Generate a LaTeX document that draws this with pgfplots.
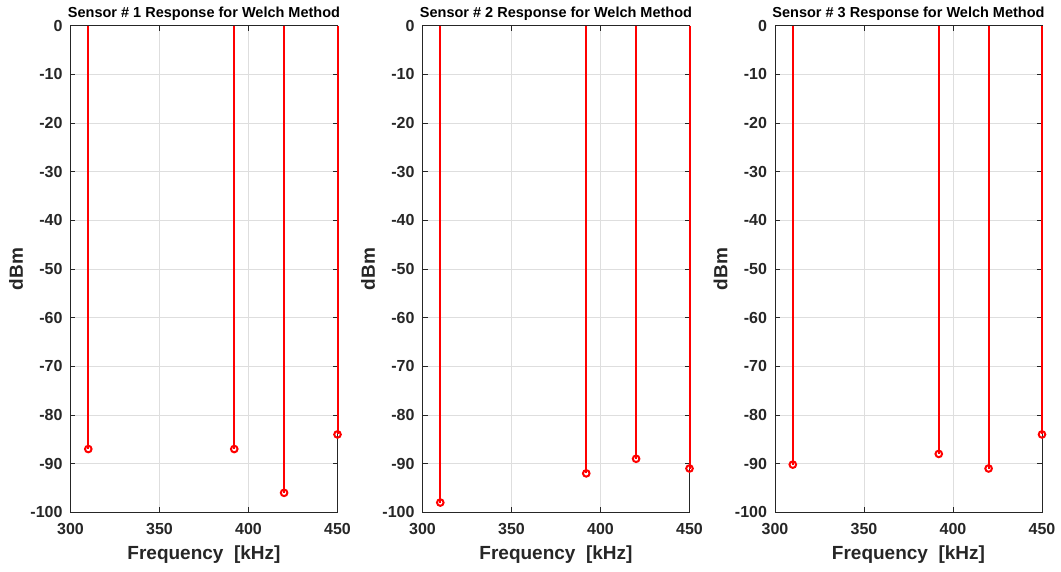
\documentclass[border=0pt]{standalone}
\usepackage{pgfplots}
\pgfplotsset{compat=1.18}
\usepackage{fontspec}
\setmainfont{Liberation Sans}
\definecolor{axgray}{RGB}{38,38,38}
\definecolor{gridgray}{RGB}{222,222,222}
\definecolor{stemred}{RGB}{255,0,0}
\pgfplotsset{
  sensor/.style={
    scale only axis, anchor=south west,
    width=267pt, height=486.6pt,
    xmin=300, xmax=450, ymin=-100, ymax=0,
    xtick={300,350,400,450}, xticklabels={300,350,400,450},
    ytick={-100,-90,-80,-70,-60,-50,-40,-30,-20,-10,0},
    yticklabels={-100,-90,-80,-70,-60,-50,-40,-30,-20,-10,0},
    grid=major, grid style={color=gridgray, line width=0.7pt},
    tick align=inside, major tick length=5pt,
    axis line style={color=axgray, line width=0.9pt},
    every tick/.style={color=axgray, line width=0.9pt},
    ticklabel style={font=\bfseries\fontsize{16}{16}\selectfont, text=axgray, inner sep=0pt},
    yticklabel style={xshift=-7.8pt},
    xticklabel style={yshift=-11pt},
    every axis x label/.style={at={(axis description cs:0.5,-0.098)}, anchor=base, font=\bfseries\fontsize{19}{19}\selectfont, text=axgray},
    every axis y label/.style={at={(axis description cs:-0.178,0.5)}, rotate=90, anchor=base, font=\bfseries\fontsize{19}{19}\selectfont, text=axgray},
    every axis title/.style={at={(axis description cs:0.5,1.0173)}, anchor=base, font=\bfseries\fontsize{14.5}{14.5}\selectfont, text=black},
    xlabel={Frequency\ \ [kHz]}, ylabel={dBm},
    clip=false,
  },
  stem/.style={ycomb, color=stemred, line width=2pt, mark=o, mark size=3.3pt, mark options={line width=2pt, fill=none}},
}
\begin{document}
\begin{tikzpicture}
\useasboundingbox (0,0) rectangle (1061pt,571pt);
\begin{axis}[sensor, at={(70.5pt,58.7pt)}, title={Sensor \# 1 Response for Welch Method}]
\addplot[stem] coordinates {(310,-87) (392,-87) (420,-96) (450,-84)};
\end{axis}
\begin{axis}[sensor, at={(422.5pt,58.7pt)}, title={Sensor \# 2 Response for Welch Method}]
\addplot[stem] coordinates {(310,-98) (392,-92) (420,-89) (450,-91)};
\end{axis}
\begin{axis}[sensor, at={(775pt,58.7pt)}, title={Sensor \# 3 Response for Welch Method}]
\addplot[stem] coordinates {(310,-90.2) (392,-88) (420,-91) (450,-84)};
\end{axis}
\end{tikzpicture}
\end{document}
